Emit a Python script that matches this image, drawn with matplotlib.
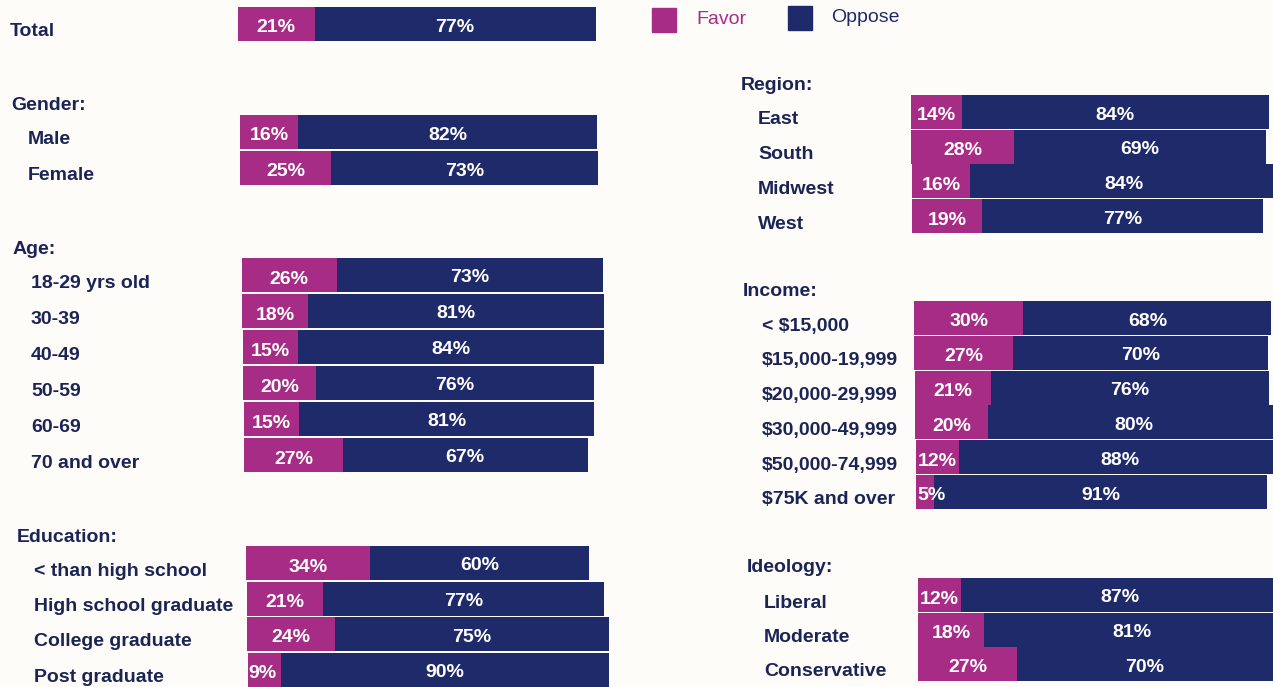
import matplotlib.pyplot as plt
from matplotlib.patches import Rectangle

plt.rcParams['font.family'] = ['Liberation Sans', 'DejaVu Sans']

# data (favor / oppose, percent)
total_labels = ["Total"]
total_favor = [21]
total_oppose = [77]

gender_labels = ["Male", "Female"]
gender_favor = [16, 25]
gender_oppose = [82, 73]

age_labels = ["18-29 yrs old", "30-39", "40-49", "50-59", "60-69", "70 and over"]
age_favor = [26, 18, 15, 20, 15, 27]
age_oppose = [73, 81, 84, 76, 81, 67]

edu_labels = ["< than high school", "High school graduate", "College graduate", "Post graduate"]
edu_favor = [34, 21, 24, 9]
edu_oppose = [60, 77, 75, 90]

region_labels = ["East", "South", "Midwest", "West"]
region_favor = [14, 28, 16, 19]
region_oppose = [84, 69, 84, 77]

income_labels = ["< $15,000", "$15,000-19,999", "$20,000-29,999", "$30,000-49,999",
                 "$50,000-74,999", "$75K and over"]
income_favor = [30, 27, 21, 20, 12, 5]
income_oppose = [68, 70, 76, 80, 88, 91]

ideology_labels = ["Liberal", "Moderate", "Conservative"]
ideology_favor = [12, 18, 27]
ideology_oppose = [87, 81, 70]

favor_color = "#a62c86"
oppose_color = "#1f2a6b"
text_color = "#1b2455"
bg = "#fdfcf8"

W, H = 1273, 687
fig = plt.figure(figsize=(W / 100, H / 100), dpi=100, facecolor=bg)
ax = fig.add_axes([0, 0, 1, 1])
ax.set_xlim(0, W)
ax.set_ylim(H, 0)
ax.axis("off")

scale = 3.65   # px per percent
bar_h = 34
fs = 14


def draw_group(header, hx, hy, item_x, y0, step, col_x0, col_y0, skew,
               labels, favor, oppose):
    if header:
        ax.text(hx, hy + 2, header, fontsize=fs, fontweight="bold", color=text_color,
                va="center", ha="left")
    for i, (lab, f, o) in enumerate(zip(labels, favor, oppose)):
        y = y0 + i * step
        x0 = col_x0 + skew * (y - col_y0)
        ax.text(item_x, y + 8, lab, fontsize=fs, fontweight="bold",
                color=text_color, va="center", ha="left")
        ax.barh(y, f * scale, left=x0, height=bar_h, color=favor_color)
        ax.barh(y, o * scale, left=x0 + f * scale, height=bar_h, color=oppose_color)
        fw = f * scale
        if fw < 40:
            ax.text(x0 + 1, y + 4, f"{f}%", fontsize=fs, fontweight="bold",
                    color="white", va="center", ha="left")
        else:
            ax.text(x0 + fw / 2, y + 4, f"{f}%", fontsize=fs, fontweight="bold",
                    color="white", va="center", ha="center")
        ax.text(x0 + fw + o * scale / 2, y + 3, f"{o}%", fontsize=fs, fontweight="bold",
                color="white", va="center", ha="center")


# left column
ax.text(11, -4, "Nation:", fontsize=fs, fontweight="bold", color=text_color,
        va="center", ha="left")
draw_group(None, 0, 0, 10, 24, 36, 238, 24, 0.015,
           total_labels, total_favor, total_oppose)
draw_group("Gender:", 11, 103, 28, 132, 36, 238, 24, 0.015,
           gender_labels, gender_favor, gender_oppose)
draw_group("Age:", 13, 247, 31, 275, 36, 238, 24, 0.015,
           age_labels, age_favor, age_oppose)
draw_group("Education:", 17, 535, 34, 563, 35.5, 238, 24, 0.015,
           edu_labels, edu_favor, edu_oppose)

# right column
draw_group("Region:", 741, 84, 758, 112, 34.7, 911, 112, 0.0135,
           region_labels, region_favor, region_oppose)
draw_group("Income:", 743, 290, 762, 318, 34.8, 911, 112, 0.0135,
           income_labels, income_favor, income_oppose)
draw_group("Ideology:", 747, 566, 764, 595, 34.5, 911, 112, 0.0135,
           ideology_labels, ideology_favor, ideology_oppose)

# legend
ax.add_patch(Rectangle((652, 8), 24, 24, color=favor_color))
ax.text(696, 20, "Favor", fontsize=fs, color=favor_color, va="center", ha="left")
ax.add_patch(Rectangle((788, 6), 24, 24, color=oppose_color))
ax.text(831, 18, "Oppose", fontsize=fs, color=oppose_color, va="center", ha="left")

fig.savefig("out.png", dpi=100, facecolor=bg)
